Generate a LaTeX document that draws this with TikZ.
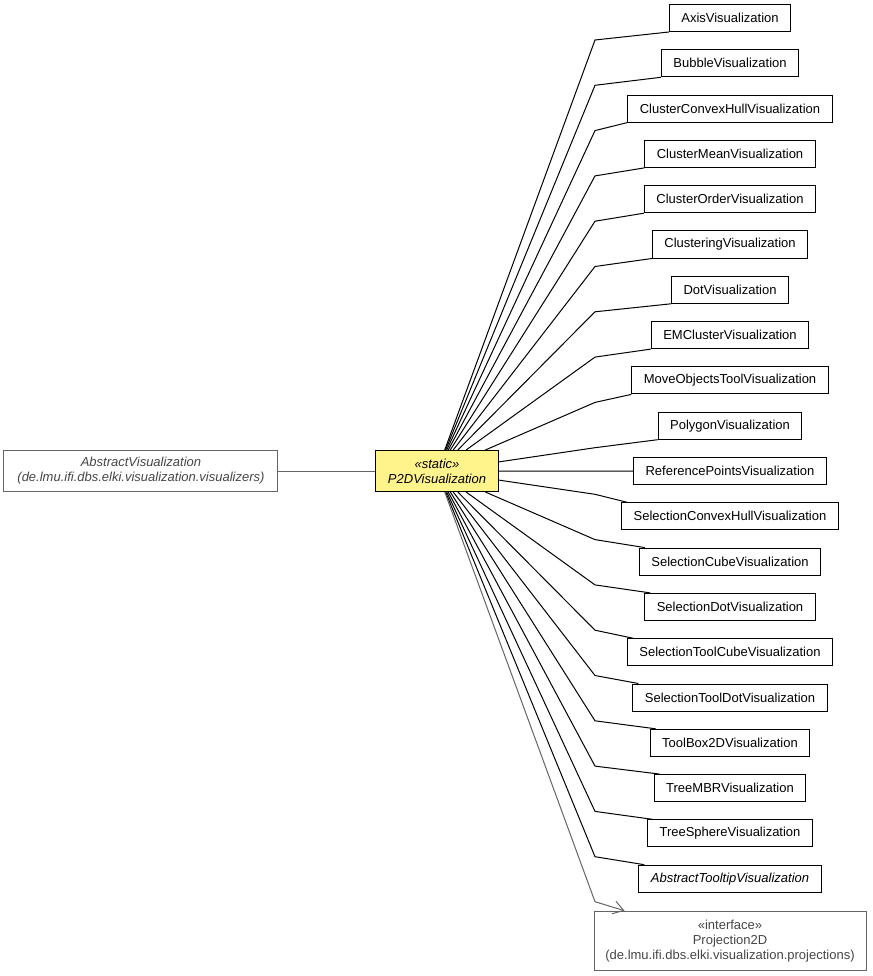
\documentclass[tikz,border=0pt]{standalone}
\usepackage{fontspec}
\setmainfont{Liberation Sans}
\usepackage{xcolor}
\usepackage{tikz}
\usetikzlibrary{arrows.meta,positioning,calc}
\definecolor{mainfill}{RGB}{255,243,140}
\definecolor{extline}{RGB}{100,100,100}
\definecolor{exttext}{RGB}{70,70,70}
\tikzset{
  cls/.style={draw, line width=1pt, fill=white, minimum height=27pt, inner xsep=12pt, inner ysep=2pt, align=center, font=\fontsize{13}{15}\selectfont},
  mainc/.style={cls, fill=mainfill, font=\fontsize{13}{15}\selectfont\itshape},
  ext/.style={draw=extline, line width=1pt, fill=white, align=center, text=exttext, inner xsep=10pt, inner ysep=2pt, font=\fontsize{13}{15}\selectfont},
  link/.style={line width=1pt},
  inherit/.style={line width=1pt, draw=extline, -{Straight Barb[length=10pt,width=13pt]}},
}

\begin{document}
\begin{tikzpicture}[x=1pt, y=-1pt]
\useasboundingbox (0,0) rectangle (872,976);
\node[mainc, minimum width=119pt, minimum height=41pt] (p2d) at (437,471) {«static»\\P2DVisualization};
\node[ext, minimum width=274pt, minimum height=41pt, font=\fontsize{13}{15}\selectfont\itshape, left=97pt of p2d] (absvis) {AbstractVisualization\\(de.lmu.ifi.dbs.elki.visualization.visualizers)};
% right column
\node[cls] (axis) at (730,18) {AxisVisualization};
\node[cls, below=17.3pt of axis] (bubble) {BubbleVisualization};
\node[cls, below=17.3pt of bubble] (cchull) {ClusterConvexHullVisualization};
\node[cls, below=17.3pt of cchull] (cmean) {ClusterMeanVisualization};
\node[cls, below=17.3pt of cmean] (corder) {ClusterOrderVisualization};
\node[cls, below=17.3pt of corder] (clustering) {ClusteringVisualization};
\node[cls, below=17.3pt of clustering] (dot) {DotVisualization};
\node[cls, below=17.3pt of dot] (emcluster) {EMClusterVisualization};
\node[cls, below=17.3pt of emcluster] (moveobj) {MoveObjectsToolVisualization};
\node[cls, below=17.3pt of moveobj] (polygon) {PolygonVisualization};
\node[cls, below=17.3pt of polygon] (refpts) {ReferencePointsVisualization};
\node[cls, below=17.3pt of refpts] (schull) {SelectionConvexHullVisualization};
\node[cls, below=17.3pt of schull] (scube) {SelectionCubeVisualization};
\node[cls, below=17.3pt of scube] (sdot) {SelectionDotVisualization};
\node[cls, below=17.3pt of sdot] (stcube) {SelectionToolCubeVisualization};
\node[cls, below=17.3pt of stcube] (stdot) {SelectionToolDotVisualization};
\node[cls, below=17.3pt of stdot] (toolbox) {ToolBox2DVisualization};
\node[cls, below=17.3pt of toolbox] (treembr) {TreeMBRVisualization};
\node[cls, below=17.3pt of treembr] (treesph) {TreeSphereVisualization};
\node[cls, font=\fontsize{13}{15}\selectfont\itshape, below=17.3pt of treesph] (tooltip) {AbstractTooltipVisualization};
\node[ext, minimum width=272pt, minimum height=59pt, below=18pt of tooltip] (proj) {«interface»\\Projection2D\\(de.lmu.ifi.dbs.elki.visualization.projections)};

\coordinate (bx) at (595,0);
\draw[link, draw=extline] (absvis) -- (p2d);
% upper fan
\draw[link] (p2d) -- ($(bx |- axis.south)+(0,8)$) -- (axis.south west);
\draw[link] (p2d) -- ($(bx |- bubble.south)+(0,8)$) -- (bubble.south west);
\draw[link] (p2d) -- ($(bx |- cchull.south)+(0,8)$) -- (cchull.south west);
\draw[link] (p2d) -- ($(bx |- cmean.south)+(0,8)$) -- (cmean.south west);
\draw[link] (p2d) -- ($(bx |- corder.south)+(0,8)$) -- (corder.south west);
\draw[link] (p2d) -- ($(bx |- clustering.south)+(0,8)$) -- (clustering.south west);
\draw[link] (p2d) -- ($(bx |- dot.south)+(0,8)$) -- (dot.south west);
\draw[link] (p2d) -- ($(bx |- emcluster.south)+(0,8)$) -- (emcluster.south west);
\draw[link] (p2d) -- ($(bx |- moveobj.south)+(0,8)$) -- (moveobj.south west);
\draw[link] (p2d) -- ($(bx |- polygon.south)+(0,8)$) -- (polygon.south west);
\draw[link] (p2d) -- (refpts);
% lower fan
\draw[link] (p2d) -- ($(bx |- schull.north)+(0,-8)$) -- ([xshift=6pt]schull.north west);
\draw[link] (p2d) -- ($(bx |- scube.north)+(0,-8)$) -- ([xshift=6pt]scube.north west);
\draw[link] (p2d) -- ($(bx |- sdot.north)+(0,-8)$) -- ([xshift=6pt]sdot.north west);
\draw[link] (p2d) -- ($(bx |- stcube.north)+(0,-8)$) -- ([xshift=6pt]stcube.north west);
\draw[link] (p2d) -- ($(bx |- stdot.north)+(0,-8)$) -- ([xshift=6pt]stdot.north west);
\draw[link] (p2d) -- ($(bx |- toolbox.north)+(0,-8)$) -- ([xshift=6pt]toolbox.north west);
\draw[link] (p2d) -- ($(bx |- treembr.north)+(0,-8)$) -- ([xshift=6pt]treembr.north west);
\draw[link] (p2d) -- ($(bx |- treesph.north)+(0,-8)$) -- ([xshift=6pt]treesph.north west);
\draw[link] (p2d) -- ($(bx |- tooltip.north)+(0,-8)$) -- ([xshift=6pt]tooltip.north west);
\draw[inherit] (p2d) -- ($(bx |- proj.north)+(0,-9)$) -- ([xshift=31pt]proj.north west);
\end{tikzpicture}
\end{document}
